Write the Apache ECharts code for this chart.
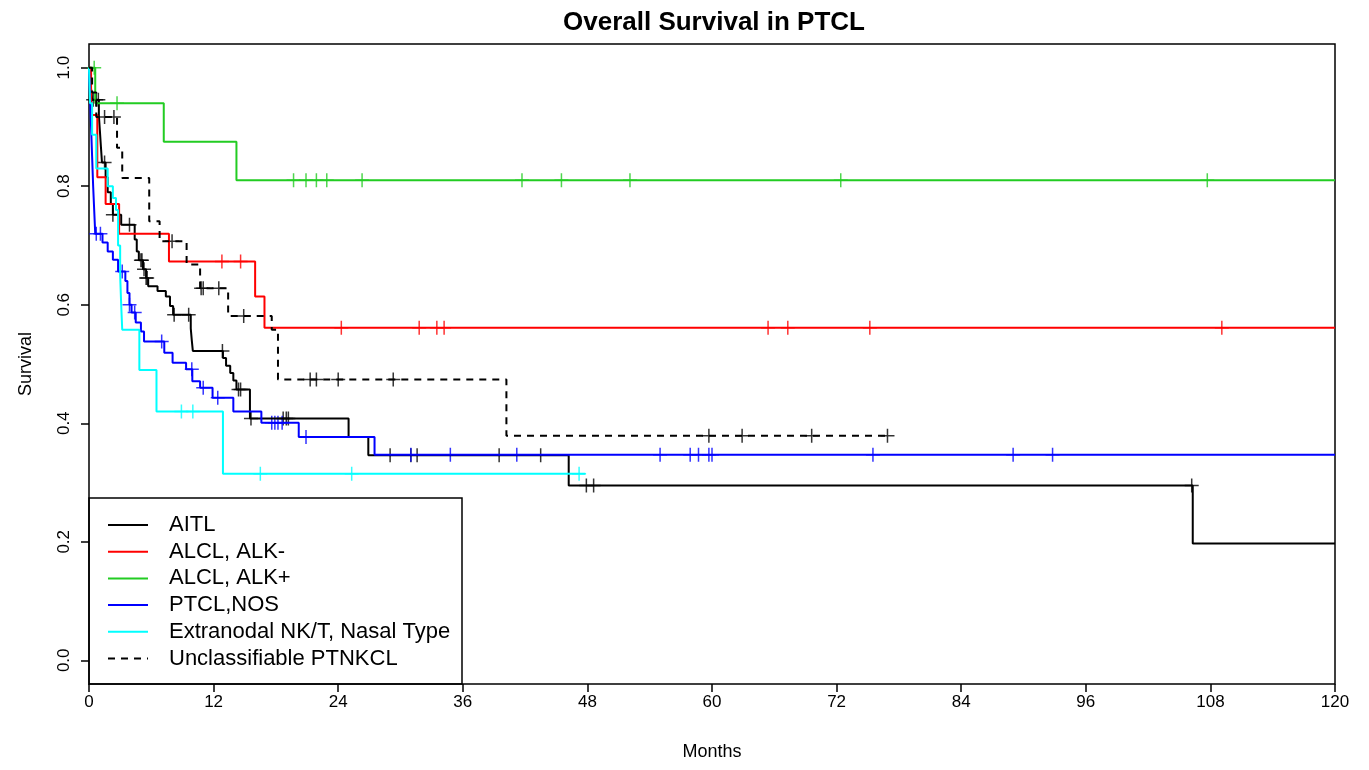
<!DOCTYPE html>
<html>
<head>
<meta charset="utf-8">
<script src="https://cdn.jsdelivr.net/npm/echarts@6/dist/echarts.min.js"></script>
<style>
  html, body { margin: 0; padding: 0; background: #fff; }
  #km { width: 1369px; height: 770px; }
</style>
</head>
<body>
<div id="km"></div>
<script>
var chart = echarts.init(document.getElementById('km'));

// step curves: event times (months) and survival after each step
var aitlTime = [0, 0.15, 0.3, 0.95, 1.05, 1.15, 1.25, 1.6, 1.8, 2.1, 2.3, 3.1, 4.4, 4.6, 4.8, 5.2, 5.5, 5.7, 6.6, 7.4, 7.8, 8.1, 9.8, 9.9, 10.0, 12.9, 13.2, 13.6, 13.9, 14.2, 15.5, 25.0, 26.9, 46.2, 106.3, 120];
var aitlSurv = [1, 0.973, 0.946, 0.92, 0.893, 0.866, 0.84, 0.815, 0.79, 0.77, 0.752, 0.735, 0.71, 0.69, 0.675, 0.66, 0.645, 0.631, 0.623, 0.614, 0.598, 0.583, 0.56, 0.54, 0.522, 0.51, 0.497, 0.485, 0.472, 0.457, 0.408, 0.377, 0.346, 0.295, 0.197, 0.197];
var aitlCens = [0.4, 0.7, 0.9, 1.5, 2.3, 3.9, 5.0, 5.1, 5.3, 5.5, 5.6, 8.2, 9.6, 12.85, 14.4, 14.6, 15.6, 18.7, 19.0, 19.2, 29.0, 31.0, 31.6, 39.5, 43.5, 47.9, 48.6, 106.2];

var alkNegTime = [0, 0.2, 0.8, 1.6, 2.9, 7.7, 16.0, 16.9, 120];
var alkNegSurv = [1, 0.92, 0.815, 0.77, 0.72, 0.673, 0.614, 0.561, 0.561];
var alkNegCens = [12.8, 14.6, 24.3, 31.8, 33.5, 34.2, 65.4, 67.3, 75.2, 109.1];

var alkPosTime = [0, 0.6, 7.2, 14.2, 120];
var alkPosSurv = [1, 0.94, 0.875, 0.81, 0.81];
var alkPosCens = [0.5, 2.7, 19.7, 20.9, 21.9, 22.9, 26.3, 41.7, 45.5, 52.1, 72.4, 107.7];

var nosTime = [0, 0.1, 0.2, 0.3, 0.4, 0.5, 0.6, 1.3, 1.8, 2.3, 2.8, 3.5, 3.7, 3.9, 4.1, 4.5, 5.0, 5.3, 7.25, 8.05, 9.35, 9.95, 10.7, 11.9, 13.9, 16.6, 20.2, 27.5, 120];
var nosSurv = [1, 0.95, 0.9, 0.85, 0.8, 0.76, 0.72, 0.705, 0.69, 0.676, 0.656, 0.64, 0.62, 0.6, 0.587, 0.57, 0.555, 0.538, 0.519, 0.502, 0.491, 0.471, 0.46, 0.443, 0.42, 0.401, 0.377, 0.347, 0.347];
var nosCens = [0.7, 1.1, 3.2, 3.9, 4.4, 7.0, 9.9, 11.0, 12.4, 17.6, 17.9, 18.2, 18.6, 20.9, 31.0, 34.8, 41.2, 55.0, 57.9, 58.7, 59.7, 60.0, 75.5, 89.0, 92.8];

var nkTime = [0, 0.1, 0.3, 0.7, 1.8, 2.3, 2.6, 2.8, 3.0, 3.1, 3.2, 4.85, 6.5, 12.9, 47.8];
var nkSurv = [1, 0.94, 0.887, 0.83, 0.8, 0.78, 0.76, 0.7, 0.65, 0.6, 0.558, 0.49, 0.42, 0.315, 0.315];
var nkCens = [8.9, 10.0, 16.5, 25.3, 47.2];

var uncTime = [0, 0.3, 0.7, 2.7, 3.2, 5.8, 6.8, 9.4, 10.7, 13.4, 17.6, 18.2, 40.2, 76.9];
var uncSurv = [1, 0.958, 0.917, 0.865, 0.814, 0.741, 0.707, 0.668, 0.628, 0.581, 0.558, 0.474, 0.379, 0.379];
var uncCens = [1.5, 2.4, 8.0, 10.8, 11.0, 12.5, 14.9, 21.3, 21.9, 24.0, 29.3, 59.7, 62.9, 69.6, 76.9];

var groupNames = ['AITL', 'ALCL, ALK-', 'ALCL, ALK+', 'PTCL,NOS', 'Extranodal NK/T, Nasal Type', 'Unclassifiable PTNKCL'];
var groupColors = ['#000000', '#ff0000', '#22cc22', '#0000ff', '#00ffff', '#000000'];
var groupDash = ['solid', 'solid', 'solid', 'solid', 'solid', [7, 6]];
var groups = [
    [aitlTime, aitlSurv, aitlCens],
    [alkNegTime, alkNegSurv, alkNegCens],
    [alkPosTime, alkPosSurv, alkPosCens],
    [nosTime, nosSurv, nosCens],
    [nkTime, nkSurv, nkCens],
    [uncTime, uncSurv, uncCens]
];

function survAt(times, surv, t) {
    var s = surv[0];
    for (var i = 0; i < times.length; i++) {
        if (times[i] <= t) s = surv[i];
    }
    return s;
}

var plusMark = 'path://M0,7 L14,7 M7,0 L7,14';

var series = [];
groups.forEach(function (g, k) {
    series.push({
        name: groupNames[k],
        type: 'line',
        step: 'end',
        symbol: 'none',
        animation: false,
        lineStyle: { color: groupColors[k], width: 2, type: groupDash[k] },
        itemStyle: { color: groupColors[k] },
        data: g[0].map(function (t, i) { return [t, g[1][i]]; })
    });
    series.push({
        name: groupNames[k] + ' censored',
        type: 'scatter',
        symbol: plusMark,
        symbolSize: 14,
        animation: false,
        silent: true,
        itemStyle: { color: 'none', borderColor: groupColors[k], borderWidth: 1.5 },
        data: g[2].map(function (t) { return [t, survAt(g[0], g[1], t)]; })
    });
});

var option = {
    backgroundColor: '#ffffff',
    animation: false,
    title: {
        text: 'Overall Survival in PTCL',
        left: 709,
        top: 5,
        textAlign: 'center',
        textStyle: { fontFamily: 'Liberation Sans', fontWeight: 'bold', fontSize: 26, color: '#000' }
    },
    legend: {
        data: groupNames,
        orient: 'vertical',
        left: 102,
        top: 509,
        itemWidth: 40,
        itemHeight: 14,
        itemGap: 4.7,
        selectedMode: false,
        itemStyle: { color: 'transparent', borderColor: 'transparent', borderWidth: 0 },
        textStyle: { fontFamily: 'Liberation Sans', fontSize: 22, color: '#000', padding: [0, 0, 0, 16] }
    },
    grid: {
        left: 89, right: 34, top: 44, bottom: 86,
        show: true, borderColor: '#000', borderWidth: 1.5, backgroundColor: 'transparent'
    },
    xAxis: {
        type: 'value',
        min: 0, max: 120, interval: 12,
        name: 'Months',
        nameLocation: 'middle',
        nameGap: 59,
        nameTextStyle: { fontFamily: 'Liberation Sans', fontSize: 18, color: '#000' },
        axisLine: { show: false, onZero: false },
        axisTick: { show: true, length: 8, lineStyle: { color: '#000', width: 1.5 } },
        axisLabel: { fontFamily: 'Liberation Sans', fontSize: 17, color: '#000', margin: 10 },
        splitLine: { show: false }
    },
    yAxis: {
        type: 'value',
        min: -0.04, max: 1.04,
        name: 'Survival',
        nameLocation: 'middle',
        nameGap: 54,
        nameTextStyle: { fontFamily: 'Liberation Sans', fontSize: 18, color: '#000' },
        axisLine: { show: false, onZero: false },
        axisTick: { show: true, length: 8, customValues: [0, 0.2, 0.4, 0.6, 0.8, 1.0], lineStyle: { color: '#000', width: 1.5 } },
        axisLabel: {
            fontFamily: 'Liberation Sans', fontSize: 17, color: '#000', rotate: 90, margin: 16,
            customValues: [0, 0.2, 0.4, 0.6, 0.8, 1.0],
            formatter: function (v) { return v.toFixed(1); }
        },
        splitLine: { show: false }
    },
    graphic: [{
        type: 'rect',
        shape: { x: 89, y: 498, width: 373, height: 186 },
        style: { fill: 'none', stroke: '#000', lineWidth: 1.5 },
        z: 1
    }],
    series: series
};

chart.setOption(option);
</script>
</body>
</html>
